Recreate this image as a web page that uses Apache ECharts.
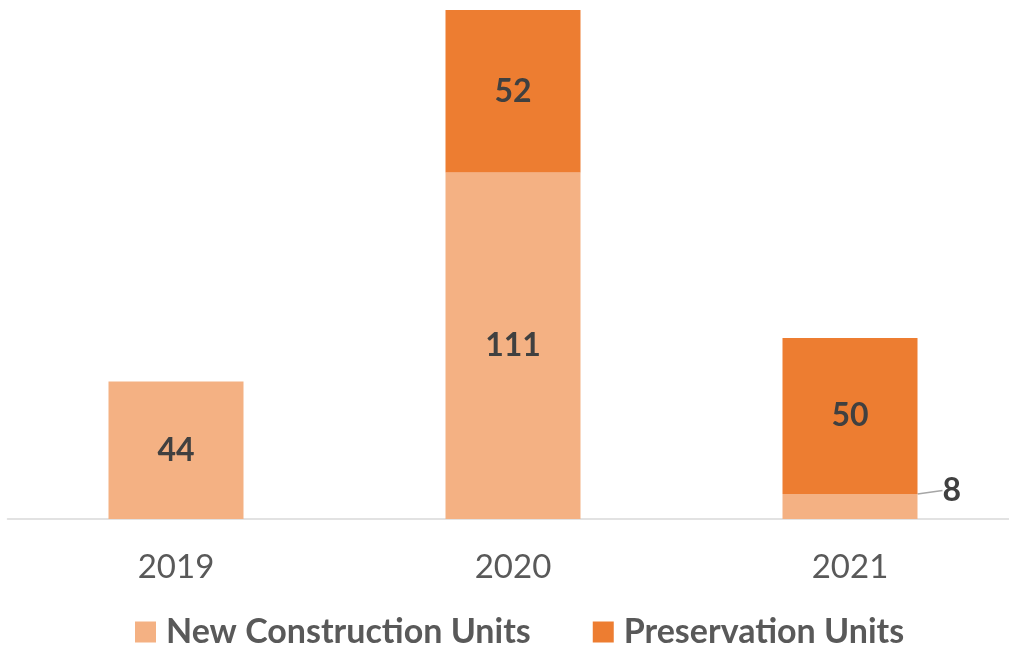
<!DOCTYPE html>
<html><head><meta charset="utf-8">
<script src="https://cdn.jsdelivr.net/npm/echarts@6/dist/echarts.min.js"></script>
<style>html,body{margin:0;padding:0;background:#fff}#c{width:1009px;height:646px}</style>
</head><body><div id="c"></div>
<script>
const categories = ['2019', '2020', '2021'];
const newConstruction = [44, 111, 8];
const preservation = [null, 52, 50];
const seriesNames = ['New Construction Units', 'Preservation Units'];

const FONT = 'Lato';
const chart = echarts.init(document.getElementById('c'));
const newData = newConstruction.map((v, i) => {
  if (v < 20) {
    return {
      value: v,
      label: { position: 'right', distance: 6 },
      labelLine: { show: true, lineStyle: { color: '#a6a6a6', width: 1.5 } }
    };
  }
  return v;
});
chart.setOption({
  animation: false,
  grid: { left: 7.5, width: 1011, top: 10, bottom: 127, outerBoundsMode: 'none', containLabel: false },
  legend: {
    top: 610, left: 130,
    itemWidth: 21, itemHeight: 21, itemGap: 62,
    icon: 'rect',
    textStyle: { fontFamily: FONT, fontSize: 34, fontWeight: 'bold', color: '#595959', padding: [0, 0, 0, 5] },
    data: seriesNames
  },
  xAxis: {
    type: 'category', data: categories,
    axisLine: { lineStyle: { color: '#d9d9d9', width: 1.5 } },
    axisTick: { show: false },
    axisLabel: { fontFamily: FONT, fontSize: 33, color: '#595959', margin: 32 }
  },
  yAxis: {
    type: 'value', min: 0, max: 163, show: false,
    splitLine: { show: false }
  },
  series: [
    {
      name: seriesNames[0], type: 'bar', stack: 'a', barWidth: 135,
      itemStyle: { color: '#f4b183' },
      label: { show: true, position: 'inside', fontFamily: FONT, fontSize: 32, fontWeight: 'bold', color: '#404040' },
      labelLayout: function (p) {
        if (p.dataIndex === 2) return { dx: 19, dy: -16 };
        return {};
      },
      data: newData
    },
    {
      name: seriesNames[1], type: 'bar', stack: 'a', barWidth: 135,
      itemStyle: { color: '#ed7d31' },
      label: { show: true, position: 'inside', fontFamily: FONT, fontSize: 32, fontWeight: 'bold', color: '#404040' },
      data: preservation
    }
  ]
});
</script></body></html>
